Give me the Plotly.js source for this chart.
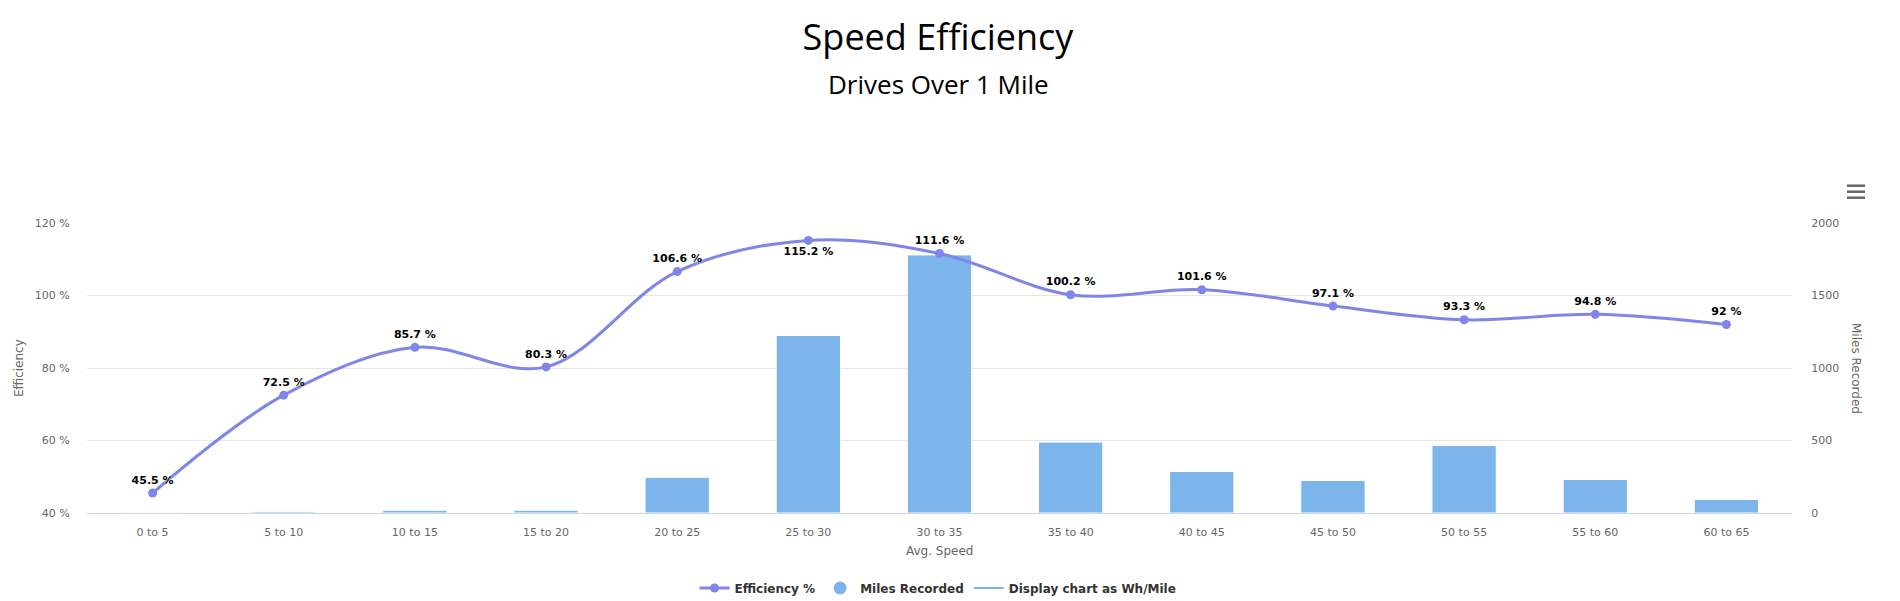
<!DOCTYPE html>
<html>
<head>
<meta charset="utf-8">
<script src="https://cdn.plot.ly/plotly-3.0.1.min.js"></script>
<style>
  html, body { margin: 0; padding: 0; background: #fff; }
  #chart { width: 1900px; height: 601px; }
</style>
</head>
<body>
<div id="chart"></div>
<script>
// Speed buckets (mph) shown on the x axis
const speedBuckets = ['0 to 5', '5 to 10', '10 to 15', '15 to 20', '20 to 25', '25 to 30',
  '30 to 35', '35 to 40', '40 to 45', '45 to 50', '50 to 55', '55 to 60', '60 to 65'];

// Efficiency per bucket, percent of rated consumption
const efficiencyPct = [45.5, 72.5, 85.7, 80.3, 106.6, 115.2, 111.6, 100.2, 101.6, 97.1, 93.3, 94.8, 92];

// Miles driven in each bucket
const milesRecorded = [2, 9, 19, 19, 246, 1224, 1780, 489, 286, 224, 465, 231, 93];

// Value label placement: the peak label sits under its point
const labelPositions = ['top center', 'top center', 'top center', 'top center', 'top center',
  'bottom center', 'top center', 'top center', 'top center', 'top center', 'top center',
  'top center', 'top center'];

const LINE_COLOR = '#8085e9';
const BAR_COLOR = '#7cb5ec';
const AXIS_TEXT = '#666666';
const BASE_FONT = 'DejaVu Sans, sans-serif';
const TITLE_FONT = 'Open Sans, sans-serif';

// plot-area box in page pixels
const W = 1900, H = 601;
const PLOT_L = 87, PLOT_R = 1792, PLOT_T = 223, PLOT_B = 513;
const px = x => (x - PLOT_L) / (PLOT_R - PLOT_L);
const py = y => (PLOT_B - y) / (PLOT_B - PLOT_T);

const traces = [
  {
    type: 'bar',
    name: 'Miles Recorded',
    x: speedBuckets,
    y: milesRecorded,
    yaxis: 'y',
    marker: { color: BAR_COLOR, line: { color: '#ffffff', width: 1 } },
    width: 0.49,
    showlegend: false,
    hovertemplate: '%{x}<br>%{y} mi<extra></extra>'
  },
  {
    type: 'scatter',
    mode: 'lines+markers+text',
    name: 'Efficiency %',
    x: speedBuckets,
    y: efficiencyPct,
    yaxis: 'y2',
    text: efficiencyPct.map(v => v + ' %'),
    textposition: labelPositions,
    textfont: { family: BASE_FONT, size: 11, color: '#000000', weight: 'bold',
                shadow: '0px 0px 2px #ffffff' },
    line: { color: LINE_COLOR, width: 3, shape: 'spline', smoothing: 1 },
    marker: { color: LINE_COLOR, size: 9 },
    cliponaxis: false,
    hovertemplate: '%{x}<br>%{y} %<extra></extra>'
  },
  // legend entry for the bar series (round symbol)
  {
    type: 'scatter',
    mode: 'markers',
    name: 'Miles Recorded',
    x: [null],
    y: [null],
    yaxis: 'y',
    marker: { color: BAR_COLOR, size: 13, symbol: 'circle' },
    hoverinfo: 'skip'
  },
  // toggle entry for the Wh/Mile view
  {
    type: 'scatter',
    mode: 'lines',
    name: 'Display chart as Wh/Mile',
    x: [null],
    y: [null],
    yaxis: 'y',
    line: { color: BAR_COLOR, width: 2 },
    hoverinfo: 'skip'
  }
];

const tickFont = { family: BASE_FONT, size: 11, color: AXIS_TEXT };

const layout = {
  width: W,
  height: H,
  paper_bgcolor: '#ffffff',
  plot_bgcolor: '#ffffff',
  margin: { l: PLOT_L, r: W - PLOT_R, t: PLOT_T, b: H - PLOT_B, pad: 0, autoexpand: false },
  font: { family: BASE_FONT, color: '#333333' },
  title: {
    text: 'Speed Efficiency',
    font: { family: TITLE_FONT, size: 36, color: '#000000' },
    x: 938 / W,
    xanchor: 'center',
    xref: 'container',
    y: 1 - 37 / H,
    yref: 'container',
    yanchor: 'middle'
  },
  xaxis: {
    type: 'category',
    range: [-0.5, speedBuckets.length - 0.5],
    showgrid: false,
    showline: true,
    linecolor: '#ccd6eb',
    linewidth: 1,
    ticks: 'outside',
    ticklen: 9,
    tickcolor: 'rgba(0,0,0,0)',
    tickfont: tickFont,
    zeroline: false,
    fixedrange: true
  },
  // miles axis (right)
  yaxis: {
    side: 'right',
    range: [0, 2000],
    dtick: 500,
    tick0: 0,
    showgrid: true,
    gridcolor: '#e6e6e6',
    gridwidth: 1,
    zeroline: false,
    ticks: 'outside',
    ticklen: 16,
    tickcolor: 'rgba(0,0,0,0)',
    tickfont: tickFont,
    fixedrange: true
  },
  // efficiency axis (left), drawn over the bars
  yaxis2: {
    side: 'left',
    overlaying: 'y',
    range: [40, 120],
    dtick: 20,
    tick0: 40,
    ticksuffix: ' %',
    showgrid: false,
    zeroline: false,
    ticks: 'outside',
    ticklen: 14,
    tickcolor: 'rgba(0,0,0,0)',
    tickfont: tickFont,
    fixedrange: true
  },
  legend: {
    orientation: 'h',
    x: px(938),
    xanchor: 'center',
    y: py(588),
    yanchor: 'middle',
    font: { family: BASE_FONT, size: 12, color: '#333333', weight: 'bold' },
    itemwidth: 30,
    tracegroupgap: 0
  },
  annotations: [
    {
      text: 'Drives Over 1 Mile',
      xref: 'paper', yref: 'paper',
      x: px(938), y: py(84),
      xanchor: 'center', yanchor: 'middle',
      showarrow: false,
      font: { family: TITLE_FONT, size: 26, color: '#000000' }
    },
    {
      text: 'Efficiency',
      xref: 'paper', yref: 'paper',
      x: px(19), y: py(368),
      xanchor: 'center', yanchor: 'middle',
      textangle: -90,
      showarrow: false,
      font: { family: BASE_FONT, size: 12, color: AXIS_TEXT }
    },
    {
      text: 'Miles Recorded',
      xref: 'paper', yref: 'paper',
      x: px(1856), y: py(368),
      xanchor: 'center', yanchor: 'middle',
      textangle: 90,
      showarrow: false,
      font: { family: BASE_FONT, size: 12, color: AXIS_TEXT }
    },
    {
      text: 'Avg. Speed',
      xref: 'paper', yref: 'paper',
      x: 0.5, y: py(551),
      xanchor: 'center', yanchor: 'middle',
      showarrow: false,
      font: { family: BASE_FONT, size: 12, color: AXIS_TEXT }
    }
  ],
  // export-menu glyph in the top-right corner
  shapes: [185.7, 191.7, 197.7].map(y => ({
    type: 'line',
    xref: 'paper', yref: 'paper',
    x0: px(1847), x1: px(1865),
    y0: py(y), y1: py(y),
    line: { color: '#666666', width: 2.5 }
  })),
  bargap: 0.51,
  showlegend: true,
  hovermode: 'closest'
};

Plotly.newPlot('chart', traces, layout, { displayModeBar: false, responsive: false, staticPlot: false });
</script>
</body>
</html>
